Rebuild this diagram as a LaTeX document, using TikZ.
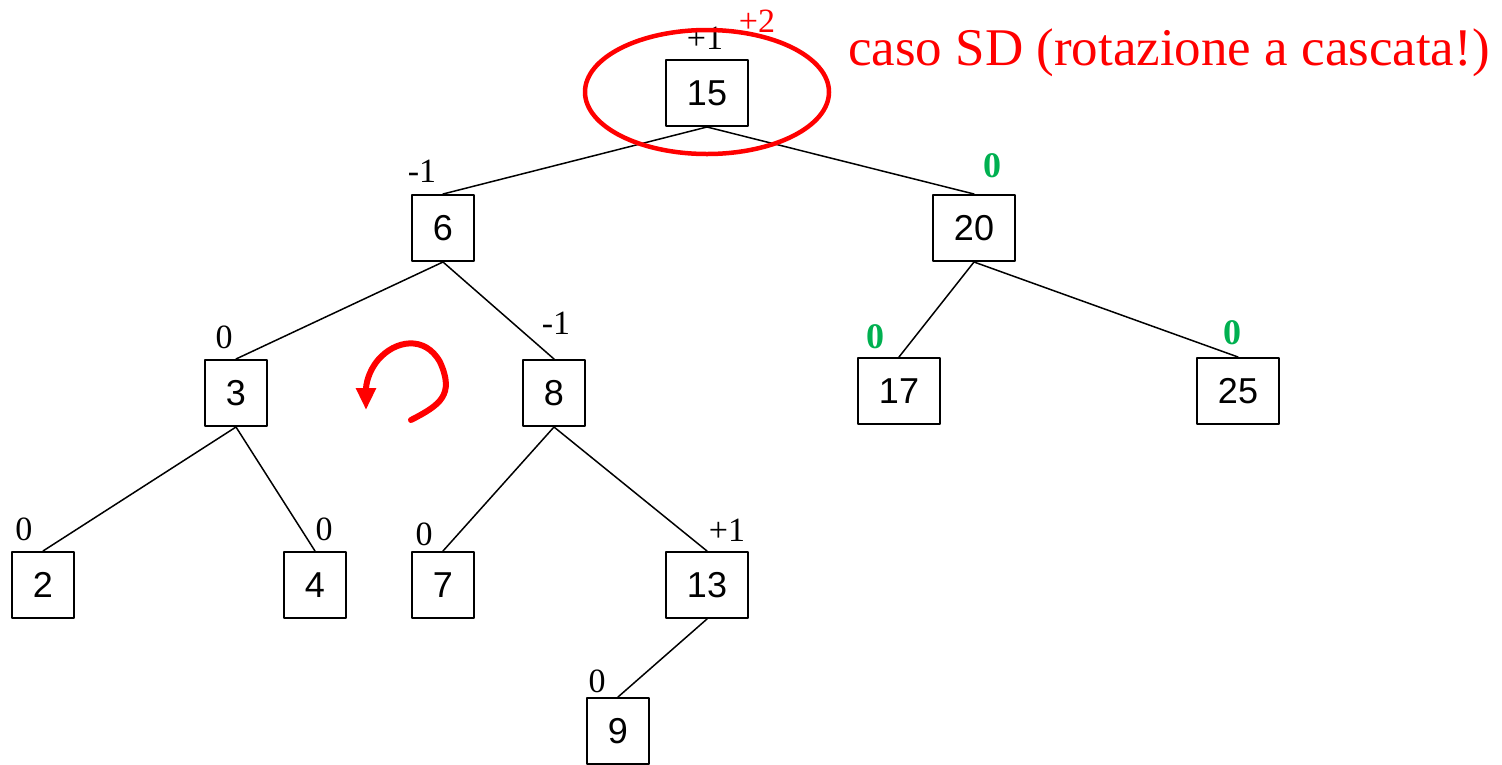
\documentclass[tikz,border=0pt]{standalone}
\usepackage{fontspec}
\setmainfont{Liberation Serif}
\newfontfamily\keyfont{Liberation Sans}
\usetikzlibrary{arrows.meta}
\definecolor{balgreen}{RGB}{0,176,80}
\tikzset{
  key/.style={draw=black, line width=2pt, inner xsep=21pt, inner ysep=0pt,
    minimum width=62pt, minimum height=66pt,
    font=\keyfont\fontsize{36pt}{40pt}\selectfont},
  bal/.style={anchor=base, inner sep=0pt, font=\fontsize{34pt}{40pt}\selectfont},
  balok/.style={bal, text=balgreen, font=\fontsize{36pt}{40pt}\selectfont\bfseries},
  edge/.style={draw=black, line width=1.5pt}
}
\begin{document}
\begin{tikzpicture}[x=1pt, y=-1pt, line cap=round, line join=round]
  \useasboundingbox (0,0) rectangle (1502,764);
  % keys
  \node[key] (k15) at (707,93) {15};
  \node[key] (k6) at (443,228) {6};
  \node[key] (k20) at (974,228) {20};
  \node[key] (k3) at (236,393) {3};
  \node[key] (k8) at (554,393) {8};
  \node[key] (k17) at (899,391) {17};
  \node[key] (k25) at (1238,391) {25};
  \node[key] (k2) at (43,585) {2};
  \node[key] (k4) at (315,585) {4};
  \node[key] (k7) at (443,585) {7};
  \node[key] (k13) at (707,585) {13};
  \node[key] (k9) at (618,731) {9};
  % edges
  \path[edge] (k15.south) -- (k6.north);
  \path[edge] (k15.south) -- (k20.north);
  \path[edge] (k6.south) -- (k3.north);
  \path[edge] (k6.south) -- (k8.north);
  \path[edge] (k20.south) -- (k17.north);
  \path[edge] (k20.south) -- (k25.north);
  \path[edge] (k3.south) -- (k2.north);
  \path[edge] (k3.south) -- (k4.north);
  \path[edge] (k8.south) -- (k7.north);
  \path[edge] (k8.south) -- (k13.north);
  \path[edge] (k13.south) -- (k9.north);
  % balance factors
  \node[bal] (b15) at (705,49) {+1};
  \node[bal, text=red] (b15new) at (757,32) {+2};
  \node[bal] (b6) at (422,182) {-1};
  \node[balok] (b20) at (992,177) {0};
  \node[bal] (b3) at (224,348) {0};
  \node[bal] (b8) at (556,334) {-1};
  \node[balok] (b17) at (875,348) {0};
  \node[balok] (b25) at (1232,344) {0};
  \node[bal] (b2) at (24,540) {0};
  \node[bal] (b4) at (324,540) {0};
  \node[bal] (b7) at (424,545) {0};
  \node[bal] (b13) at (727,541) {+1};
  \node[bal] (b9) at (597,692) {0};
  % critical node and rotation
  \draw[red, line width=4.5pt] (707,92) ellipse [x radius=122, y radius=62];
  \draw[red, line width=6pt, -{Triangle[length=22pt, width=19pt]}]
    (411,420) .. controls (440,405) and (455,395) .. (440,362)
    .. controls (425,335) and (395,340) .. (378,360)
    .. controls (368,372) and (366,385) .. (366,410);
  \node[anchor=base west, inner sep=0pt, text=red, font=\fontsize{53pt}{60pt}\selectfont]
    (title) at (848,65) {caso SD (rotazione a cascata!)};
\end{tikzpicture}
\end{document}
